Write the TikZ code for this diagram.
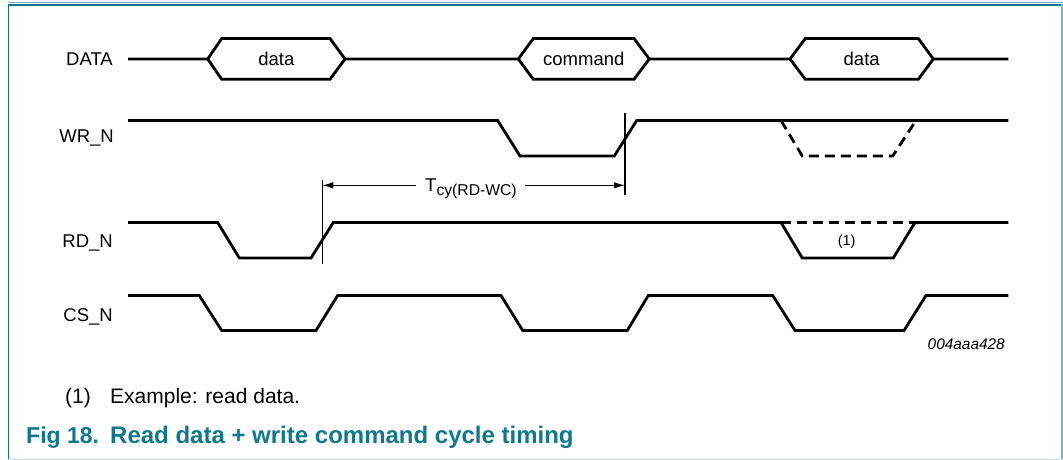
\documentclass[tikz,border=0pt]{standalone}
\usepackage{fontspec}
\setmainfont{Liberation Sans}
\usetikzlibrary{arrows.meta}
\definecolor{nxpteal}{RGB}{14,120,140}
\definecolor{nxplight}{RGB}{125,182,196}
\definecolor{nxpgrey}{RGB}{205,222,226}
\tikzset{
  sig/.style={line width=2.8pt, line join=miter, line cap=butt},
  sigdash/.style={sig, dash pattern=on 10pt off 6pt},
  marker/.style={line width=1.2pt},
  dim/.style={line width=1.2pt, -{Latex[length=11pt,width=6.5pt]}},
  lab/.style={inner sep=0pt, font=\fontsize{18.5}{20}\selectfont},
  signame/.style={lab, anchor=base east},
  hexlab/.style={lab, anchor=base},
  captext/.style={inner sep=0pt, anchor=base west, text=nxpteal},
}
\begin{document}
\begin{tikzpicture}[x=1pt,y=-1pt]
\useasboundingbox (0,0) rectangle (1063,460);
% frame
\draw[nxplight, line width=1pt] (8,3) -- (1063,3);
\draw[nxpteal, line width=2pt] (8,4.8) -- (1063,4.8);
\draw[nxpteal, line width=1.6pt] (8.3,4) -- (8.3,460);
\draw[nxplight, line width=2.2pt] (1061.9,4) -- (1061.9,460);
\draw[nxpgrey, line width=1.2pt] (8,459.4) -- (1063,459.4);

% signal names
\node[signame] (nData) at (113,65.6) {DATA};
\node[signame] (nWr) at (114,142.7) {WR\_N};
\node[signame] (nRd) at (113,247.3) {RD\_N};
\node[signame] (nCs) at (113,321.7) {CS\_N};

% DATA bus
\draw[sig] (128,59) -- (207.7,59) -- (221.7,38.5) -- (330,38.5) -- (345,59)
  -- (518.3,59) -- (533.3,38.5) -- (634,38.5) -- (649.3,59)
  -- (790,59) -- (805.3,38.5) -- (918.3,38.5) -- (933.3,59) -- (1008.3,59);
\draw[sig] (207.7,59) -- (221.7,79.3) -- (330,79.3) -- (345,59);
\draw[sig] (518.3,59) -- (533.3,79.3) -- (634,79.3) -- (649.3,59);
\draw[sig] (790,59) -- (805.3,79.3) -- (918.3,79.3) -- (933.3,59);
\node[hexlab] (d1) at (276.4,65.6) {data};
\node[hexlab] (d2) at (583.8,65.6) {command};
\node[hexlab] (d3) at (861.7,65.6) {data};

% WR_N
\draw[sig] (128,120.5) -- (497.7,120.5) -- (520,156) -- (614.3,156) -- (636.7,120.5) -- (1008.3,120.5);
\draw[sigdash] (781,120.5) -- (802.3,156) -- (892.7,156) -- (916,120.5);

% RD_N
\draw[sig] (128,222.5) -- (217.7,222.5) -- (239.3,258) -- (311,258) -- (333.3,222.5) -- (781,222.5)
  -- (802.3,258) -- (893.3,258) -- (915,222.5) -- (1008.3,222.5);
\draw[sigdash] (781,222.5) -- (915,222.5);
\node[inner sep=0pt, anchor=base, font=\fontsize{14.5}{16}\selectfont] (n1) at (846.7,245.3) {(1)};

% CS_N
\draw[sig] (128,295.5) -- (199.3,295.5) -- (221.7,330.5) -- (316,330.5) -- (337.7,295.5)
  -- (501,295.5) -- (522.7,330.5) -- (627.3,330.5) -- (648.3,295.5)
  -- (772.7,295.5) -- (795,330.5) -- (904,330.5) -- (926,295.5) -- (1008.3,295.5);

% timing markers
\coordinate (m1top) at (322.3,180);
\coordinate (m1bot) at (322.3,264);
\coordinate (m2top) at (625,113);
\coordinate (m2bot) at (625,195);
\draw[marker] (m1top) -- (m1bot);
\draw[marker] (m2top) -- (m2bot);
\coordinate (aL) at (322.3,185.3);
\coordinate (aR) at (625,185.3);
\node[inner sep=0pt, anchor=base west] (tcy) at (425,191.5)
  {\fontsize{18.5}{20}\selectfont T\raisebox{-3.5pt}{\fontsize{15.7}{17}\selectfont cy(RD-WC)}};
\draw[dim] (416,185.3) -- (aL);
\draw[dim] (525,185.3) -- (aR);

% figure id
\node[inner sep=0pt, anchor=base east, font=\fontsize{15.4}{17}\selectfont\itshape] (fid) at (1005,349) {004aaa428};

% footnote
\node[inner sep=0pt, anchor=base west, font=\fontsize{21}{24}\selectfont] (fnNum) at (65,403.3) {(1)};
\node[inner sep=0pt, anchor=base west, font=\fontsize{21}{24}\selectfont] (fnTxt) at (110,403.3) {Example: read data.};

% caption
\node[captext, font=\fontsize{23}{26}\selectfont\bfseries] (capNum) at (26,443.3) {Fig 18.};
\node[captext, font=\fontsize{24}{27}\selectfont\bfseries] (capTxt) at (110,443.3) {Read data + write command cycle timing};
\end{tikzpicture}
\end{document}
